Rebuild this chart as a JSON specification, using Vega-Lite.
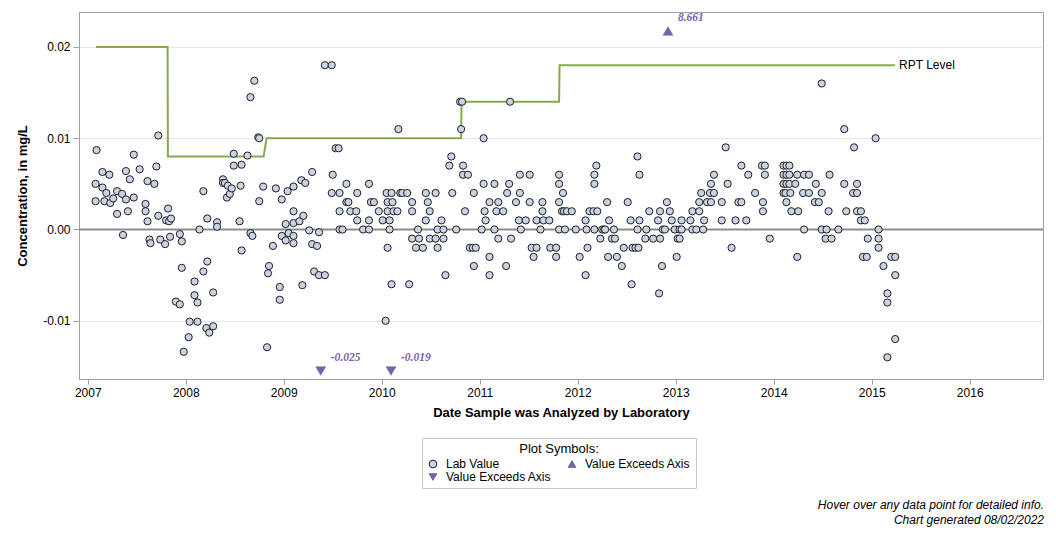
{
  "$schema": "https://vega.github.io/schema/vega-lite/v6.json",
  "width": 964,
  "height": 367,
  "autosize": {"type": "none"},
  "padding": {"left": 79, "top": 12, "right": 13, "bottom": 159},
  "background": "white",
  "config": {
    "font": "Liberation Sans",
    "view": {"stroke": "#a0a0a0", "strokeWidth": 1},
    "axis": {"labelColor": "#000000", "titleColor": "#000000", "labelFontSize": 12, "titleFontSize": 13, "titleFontWeight": "bold", "tickColor": "#a0a0a0", "domain": false},
    "legend": {
      "orient": "none", "legendX": 343, "legendY": 426, "columns": 2, "direction": "horizontal", "columnPadding": 14,
      "titleAnchor": "middle", "titleFontSize": 13, "titleFontWeight": "normal", "titleColor": "#000000", "titlePadding": 2,
      "labelFontSize": 12, "labelColor": "#000000", "labelOffset": 7, "symbolSize": 60, "rowPadding": 1,
      "padding": 5, "strokeColor": "#c8c8c8", "symbolStrokeWidth": 1
    }
  },
  "title": {
    "text": ["Hover over any data point for detailed info.", "Chart generated 08/02/2022"],
    "orient": "bottom", "anchor": "end", "fontSize": 12, "fontStyle": "italic", "fontWeight": "normal",
    "color": "#000000", "lineHeight": 15, "offset": 11
  },
  "datasets": {
    "rpt": [
      {"seq": 1, "date": 2007.085, "rpt": 0.02},
      {"seq": 2, "date": 2007.815, "rpt": 0.02},
      {"seq": 3, "date": 2007.818, "rpt": 0.008},
      {"seq": 4, "date": 2008.795, "rpt": 0.008},
      {"seq": 5, "date": 2008.825, "rpt": 0.01},
      {"seq": 6, "date": 2010.81, "rpt": 0.01},
      {"seq": 7, "date": 2010.815, "rpt": 0.014},
      {"seq": 8, "date": 2011.81, "rpt": 0.014},
      {"seq": 9, "date": 2011.815, "rpt": 0.018},
      {"seq": 10, "date": 2015.238, "rpt": 0.018}
    ],
    "rptlabel": [{"date": 2015.238, "rpt": 0.018, "label": "RPT Level"}],
    "beyond": [
      {"date": 2012.921, "conc": 8.661, "symbol": "Above", "label": "8.661"},
      {"date": 2009.378, "conc": -0.025, "symbol": "Below", "label": "-0.025"},
      {"date": 2010.095, "conc": -0.019, "symbol": "Below", "label": "-0.019"}
    ],
    "lab": [
      {"date":2007.09,"conc":0.0087},{"date":2007.08,"conc":0.005},{"date":2007.08,"conc":0.0031},{"date":2007.15,"conc":0.0063},{"date":2007.15,"conc":0.0046},{"date":2007.22,"conc":0.006},{"date":2007.19,"conc":0.004},{"date":2007.17,"conc":0.0031},{"date":2007.23,"conc":0.0029},{"date":2007.26,"conc":0.0034},{"date":2007.30,"conc":0.0042},{"date":2007.30,"conc":0.0017},{"date":2007.35,"conc":0.0039},{"date":2007.36,"conc":-0.0006},{"date":2007.39,"conc":0.0064},{"date":2007.39,"conc":0.0033},{"date":2007.41,"conc":0.002},{"date":2007.43,"conc":0.0055},{"date":2007.47,"conc":0.0082},{"date":2007.47,"conc":0.0035},{"date":2007.53,"conc":0.0066},{"date":2007.59,"conc":0.0028},{"date":2007.59,"conc":0.002},{"date":2007.61,"conc":0.0053},{"date":2007.61,"conc":0.0009},{"date":2007.63,"conc":-0.0011},{"date":2007.64,"conc":-0.0015},{"date":2007.68,"conc":0.005},{"date":2007.70,"conc":0.0069},{"date":2007.72,"conc":0.0103},{"date":2007.72,"conc":0.0015},{"date":2007.74,"conc":-0.0011},{"date":2007.79,"conc":-0.0016},{"date":2007.80,"conc":0.001},{"date":2007.82,"conc":0.0023},{"date":2007.83,"conc":0.0009},{"date":2007.84,"conc":-0.0008},{"date":2007.85,"conc":0.0012},{"date":2007.94,"conc":-0.0005},{"date":2007.96,"conc":-0.0013},{"date":2007.96,"conc":-0.0042},{"date":2007.90,"conc":-0.0079},{"date":2007.94,"conc":-0.0082},{"date":2007.98,"conc":-0.0134},{"date":2008.03,"conc":-0.0118},{"date":2008.04,"conc":-0.0101},{"date":2008.09,"conc":-0.0057},{"date":2008.09,"conc":-0.0072},{"date":2008.12,"conc":-0.008},{"date":2008.12,"conc":-0.0101},{"date":2008.14,"conc":0},{"date":2008.18,"conc":0.0042},{"date":2008.18,"conc":-0.0046},{"date":2008.22,"conc":0.0012},{"date":2008.22,"conc":-0.0035},{"date":2008.21,"conc":-0.0108},{"date":2008.24,"conc":-0.0113},{"date":2008.28,"conc":-0.0106},{"date":2008.28,"conc":-0.0069},{"date":2008.32,"conc":0.0008},{"date":2008.32,"conc":0.0003},{"date":2008.38,"conc":0.0055},{"date":2008.38,"conc":0.0051},{"date":2008.40,"conc":0.0051},{"date":2008.42,"conc":0.0035},{"date":2008.43,"conc":0.0048},{"date":2008.45,"conc":0.0039},{"date":2008.47,"conc":0.0045},{"date":2008.49,"conc":0.0083},{"date":2008.49,"conc":0.007},{"date":2008.55,"conc":0.0009},{"date":2008.56,"conc":0.0048},{"date":2008.57,"conc":0.0071},{"date":2008.57,"conc":-0.0023},{"date":2008.63,"conc":0.0081},{"date":2008.66,"conc":0.0145},{"date":2008.66,"conc":-0.0004},{"date":2008.68,"conc":-0.0007},{"date":2008.70,"conc":0.0163},{"date":2008.75,"conc":0.0031},{"date":2008.74,"conc":0.0101},{"date":2008.75,"conc":0.01},{"date":2008.79,"conc":0.0047},{"date":2008.83,"conc":-0.0129},{"date":2008.84,"conc":-0.0048},{"date":2008.85,"conc":-0.004},{"date":2008.89,"conc":-0.0018},{"date":2008.92,"conc":0.0045},{"date":2008.96,"conc":-0.0063},{"date":2008.96,"conc":-0.0077},{"date":2008.98,"conc":0.0033},{"date":2008.98,"conc":-0.0007},{"date":2009.02,"conc":0.0006},{"date":2009.02,"conc":-0.0012},{"date":2009.04,"conc":0.0042},{"date":2009.05,"conc":-0.0004},{"date":2009.10,"conc":0.0047},{"date":2009.10,"conc":0.002},{"date":2009.10,"conc":0.0007},{"date":2009.10,"conc":-0.0007},{"date":2009.10,"conc":-0.0015},{"date":2009.16,"conc":0.0009},{"date":2009.18,"conc":0.0054},{"date":2009.19,"conc":-0.0061},{"date":2009.20,"conc":0.0015},{"date":2009.22,"conc":0.0051},{"date":2009.26,"conc":-0.0001},{"date":2009.29,"conc":0.0063},{"date":2009.29,"conc":-0.0016},{"date":2009.31,"conc":-0.0046},{"date":2009.34,"conc":-0.0018},{"date":2009.36,"conc":-0.0003},{"date":2009.36,"conc":-0.005},{"date":2009.42,"conc":-0.005},{"date":2009.42,"conc":0.018},{"date":2009.49,"conc":0.018},{"date":2009.49,"conc":0.004},{"date":2009.50,"conc":0.006},{"date":2009.53,"conc":0.0089},{"date":2009.56,"conc":0.0089},{"date":2009.57,"conc":0.002},{"date":2009.57,"conc":0},{"date":2009.60,"conc":0},
      {"date":2009.57,"conc":0.004},{"date":2009.64,"conc":0.005},{"date":2009.64,"conc":0.003},{"date":2009.66,"conc":0.003},{"date":2009.68,"conc":0.002},{"date":2009.74,"conc":0.002},{"date":2009.75,"conc":0.004},{"date":2009.75,"conc":0.001},{"date":2009.81,"conc":0},{"date":2009.87,"conc":0.005},{"date":2009.87,"conc":0.001},{"date":2009.87,"conc":0},{"date":2009.89,"conc":0.003},{"date":2009.92,"conc":0.003},{"date":2009.97,"conc":0.002},{"date":2010.01,"conc":0.001},{"date":2010.04,"conc":-0.01},{"date":2010.05,"conc":0.004},{"date":2010.06,"conc":0.003},{"date":2010.06,"conc":0.002},{"date":2010.06,"conc":-0.002},{"date":2010.08,"conc":0.001},{"date":2010.08,"conc":0},{"date":2010.10,"conc":0.004},{"date":2010.10,"conc":-0.006},{"date":2010.11,"conc":0.003},{"date":2010.12,"conc":0.002},{"date":2010.17,"conc":0.011},{"date":2010.16,"conc":0.002},{"date":2010.19,"conc":0.004},{"date":2010.21,"conc":0.004},{"date":2010.26,"conc":0.004},{"date":2010.28,"conc":-0.006},{"date":2010.31,"conc":0.003},{"date":2010.31,"conc":0.002},{"date":2010.31,"conc":-0.001},{"date":2010.35,"conc":-0.002},{"date":2010.37,"conc":0},{"date":2010.38,"conc":-0.001},{"date":2010.42,"conc":-0.002},{"date":2010.45,"conc":0.004},{"date":2010.45,"conc":0.001},{"date":2010.47,"conc":0.003},{"date":2010.49,"conc":-0.001},{"date":2010.49,"conc":0.002},{"date":2010.55,"conc":0.004},{"date":2010.55,"conc":-0.001},{"date":2010.57,"conc":0},{"date":2010.57,"conc":-0.002},{"date":2010.61,"conc":0.001},{"date":2010.63,"conc":0},{"date":2010.63,"conc":-0.001},{"date":2010.65,"conc":-0.005},{"date":2010.69,"conc":0.007},{"date":2010.71,"conc":0.008},{"date":2010.72,"conc":0.004},{"date":2010.76,"conc":0},{"date":2010.80,"conc":0.014},{"date":2010.82,"conc":0.014},{"date":2010.81,"conc":0.011},{"date":2010.83,"conc":0.007},{"date":2010.83,"conc":0.006},{"date":2010.85,"conc":0.002},{"date":2010.88,"conc":0.006},{"date":2010.90,"conc":-0.002},{"date":2010.93,"conc":-0.002},{"date":2010.96,"conc":-0.002},{"date":2010.94,"conc":0.004},{"date":2010.94,"conc":-0.004},{"date":2011.02,"conc":0},{"date":2011.04,"conc":0.005},{"date":2011.04,"conc":0.01},{"date":2011.05,"conc":0.002},{"date":2011.06,"conc":0.001},{"date":2011.10,"conc":0.003},{"date":2011.10,"conc":-0.003},{"date":2011.10,"conc":-0.005},{"date":2011.15,"conc":0.005},{"date":2011.15,"conc":0},{"date":2011.17,"conc":0.002},{"date":2011.19,"conc":0.003},{"date":2011.19,"conc":-0.001},{"date":2011.24,"conc":0.002},{"date":2011.27,"conc":-0.004},{"date":2011.28,"conc":0.004},{"date":2011.30,"conc":0.005},{"date":2011.31,"conc":0.014},{"date":2011.32,"conc":-0.001},{"date":2011.37,"conc":0.003},{"date":2011.40,"conc":0.001},{"date":2011.41,"conc":0.006},{"date":2011.41,"conc":0.004},{"date":2011.42,"conc":0},{"date":2011.47,"conc":0.001},{"date":2011.51,"conc":0.006},{"date":2011.51,"conc":0.003},{"date":2011.53,"conc":-0.002},{"date":2011.55,"conc":-0.003},{"date":2011.58,"conc":-0.002},{"date":2011.58,"conc":0.001},{"date":2011.62,"conc":0},{"date":2011.64,"conc":0.003},{"date":2011.64,"conc":0.002},{"date":2011.65,"conc":0.001},{"date":2011.71,"conc":0.001},{"date":2011.72,"conc":-0.002},{"date":2011.78,"conc":-0.002},{"date":2011.78,"conc":-0.003},{"date":2011.81,"conc":0},{"date":2011.81,"conc":0.006},{"date":2011.81,"conc":0.005},{"date":2011.81,"conc":0.003},{"date":2011.84,"conc":0.002},{"date":2011.85,"conc":0.004},{"date":2011.86,"conc":0.002},{"date":2011.87,"conc":0},{"date":2011.89,"conc":0.002},{"date":2011.94,"conc":0.002},{"date":2011.98,"conc":0},{"date":2012.02,"conc":-0.003},{"date":2012.08,"conc":0.001},{"date":2012.08,"conc":-0.005},{"date":2012.09,"conc":0},{"date":2012.10,"conc":-0.002},{"date":2012.12,"conc":0.002},{"date":2012.16,"conc":0.002},{"date":2012.17,"conc":0.006},{"date":2012.17,"conc":0.005},{"date":2012.19,"conc":0.007},{"date":2012.17,"conc":0},{"date":2012.20,"conc":0.002},{"date":2012.23,"conc":-0.001},{"date":2012.25,"conc":0},{"date":2012.27,"conc":0},{"date":2012.28,"conc":0},{"date":2012.30,"conc":0.003},{"date":2012.31,"conc":-0.003},{"date":2012.32,"conc":0.001},{"date":2012.35,"conc":-0.001},{"date":2012.37,"conc":0},{"date":2012.38,"conc":-0.001},{"date":2012.40,"conc":-0.003},{"date":2012.45,"conc":-0.004},{"date":2012.47,"conc":-0.002},{"date":2012.51,"conc":0.003},{"date":2012.54,"conc":0.001},{"date":2012.55,"conc":-0.006},{"date":2012.56,"conc":-0.002},{"date":2012.59,"conc":-0.002},{"date":2012.61,"conc":0.008},{"date":2012.63,"conc":0.006},{"date":2012.63,"conc":0.001},{"date":2012.62,"conc":-0.002},{"date":2012.61,"conc":0},{"date":2012.69,"conc":-0.001},{"date":2012.70,"conc":0},{"date":2012.73,"conc":0.002},{"date":2012.77,"conc":-0.001},{"date":2012.82,"conc":0.001},{"date":2012.83,"conc":-0.007},{"date":2012.84,"conc":0.002},{"date":2012.84,"conc":-0.001},{"date":2012.87,"conc":0},{"date":2012.86,"conc":-0.004},{"date":2012.89,"conc":0},{"date":2012.91,"conc":0.003},{"date":2012.94,"conc":0.002},{"date":2012.96,"conc":0.001},{"date":2012.99,"conc":0},{"date":2013.01,"conc":-0.003},{"date":2013.02,"conc":-0.001},
      {"date":2013.04,"conc":0},{"date":2013.04,"conc":-0.001},{"date":2013.06,"conc":0.001},{"date":2013.06,"conc":0},{"date":2013.15,"conc":0.001},{"date":2013.17,"conc":0.002},{"date":2013.17,"conc":0},{"date":2013.21,"conc":0},{"date":2013.24,"conc":0.003},{"date":2013.24,"conc":0.002},{"date":2013.26,"conc":0.004},{"date":2013.28,"conc":0},{"date":2013.29,"conc":0.001},{"date":2013.32,"conc":0.003},{"date":2013.35,"conc":0.004},{"date":2013.36,"conc":0.005},{"date":2013.36,"conc":0.003},{"date":2013.39,"conc":0.006},{"date":2013.39,"conc":0.004},{"date":2013.47,"conc":0.003},{"date":2013.47,"conc":0.001},{"date":2013.51,"conc":0.009},{"date":2013.53,"conc":0.005},{"date":2013.57,"conc":-0.002},{"date":2013.61,"conc":0.001},{"date":2013.64,"conc":0.003},{"date":2013.67,"conc":0.003},{"date":2013.67,"conc":0.007},{"date":2013.72,"conc":0.001},{"date":2013.74,"conc":0.006},{"date":2013.81,"conc":0.004},{"date":2013.88,"conc":0.007},{"date":2013.91,"conc":0.007},{"date":2013.89,"conc":0.003},{"date":2013.89,"conc":0.002},{"date":2013.91,"conc":0.006},{"date":2013.96,"conc":-0.001},
      {"date":2014.10,"conc":0.007},{"date":2014.13,"conc":0.007},{"date":2014.16,"conc":0.007},{"date":2014.10,"conc":0.006},{"date":2014.13,"conc":0.006},{"date":2014.16,"conc":0.006},{"date":2014.10,"conc":0.005},{"date":2014.13,"conc":0.005},{"date":2014.16,"conc":0.005},{"date":2014.10,"conc":0.004},{"date":2014.12,"conc":0.004},{"date":2014.17,"conc":0.004},{"date":2014.13,"conc":0.003},{"date":2014.18,"conc":0.002},{"date":2014.22,"conc":0.005},{"date":2014.24,"conc":0.006},{"date":2014.24,"conc":-0.003},{"date":2014.25,"conc":0.002},{"date":2014.31,"conc":0.006},{"date":2014.36,"conc":0.006},{"date":2014.30,"conc":0.004},{"date":2014.36,"conc":0.004},{"date":2014.31,"conc":0},{"date":2014.43,"conc":0.005},{"date":2014.42,"conc":0.003},{"date":2014.46,"conc":0.003},{"date":2014.49,"conc":0.016},{"date":2014.49,"conc":0.004},{"date":2014.49,"conc":0},{"date":2014.54,"conc":0},{"date":2014.53,"conc":-0.001},{"date":2014.59,"conc":-0.001},{"date":2014.56,"conc":0.002},{"date":2014.57,"conc":0.006},{"date":2014.66,"conc":0},{"date":2014.72,"conc":0.011},{"date":2014.72,"conc":0.005},{"date":2014.74,"conc":0.002},{"date":2014.82,"conc":0.009},{"date":2014.81,"conc":0.004},{"date":2014.85,"conc":0.004},{"date":2014.85,"conc":0.005},{"date":2014.85,"conc":0.002},{"date":2014.89,"conc":0.002},{"date":2014.89,"conc":0.001},{"date":2014.93,"conc":0.001},{"date":2014.91,"conc":-0.003},{"date":2014.95,"conc":-0.003},{"date":2014.96,"conc":-0.001},{"date":2015.04,"conc":0.01},{"date":2015.07,"conc":0},{"date":2015.07,"conc":-0.001},{"date":2015.07,"conc":-0.002},{"date":2015.12,"conc":-0.004},{"date":2015.16,"conc":-0.007},{"date":2015.16,"conc":-0.008},{"date":2015.16,"conc":-0.014},{"date":2015.20,"conc":-0.003},{"date":2015.24,"conc":-0.003},{"date":2015.24,"conc":-0.005},{"date":2015.24,"conc":-0.012}
    ]
  },
  "layer": [
    {
      "layer": [
        {
          "data": {"values": [{"level": 0}]},
          "mark": {"type": "rule", "color": "#8c8c8c", "strokeWidth": 2},
          "encoding": {
            "y": {"field": "level", "type": "quantitative", "scale": {"domain": [-0.01638, 0.02383], "nice": false, "zero": false}}
          }
        },
        {
          "data": {"name": "rpt"},
          "mark": {"type": "line", "color": "#8aa84f", "strokeWidth": 2},
          "encoding": {
            "x": {"field": "date", "type": "quantitative", "scale": {"domain": [2006.911, 2016.748], "nice": false, "zero": false},
              "axis": {"values": [2007, 2008, 2009, 2010, 2011, 2012, 2013, 2014, 2015, 2016], "format": "d", "title": "Date Sample was Analyzed by Laboratory", "tickSize": 5, "labelPadding": 3, "titlePadding": 8, "grid": false, "labelFlush": false}},
            "y": {"field": "rpt", "type": "quantitative", "scale": {"domain": [-0.01638, 0.02383], "nice": false, "zero": false},
              "axis": {"values": [-0.01, 0, 0.01, 0.02], "labelExpr": "datum.value < 0 ? '-' + format(-datum.value, '.2f') : format(datum.value, '.2f')", "title": "Concentration, in mg/L", "tickSize": 6, "labelPadding": 3, "titlePadding": 13, "grid": true, "gridColor": "#e6e6e6"}},
            "order": {"field": "seq", "type": "quantitative"}
          }
        },
        {
          "data": {"name": "lab"},
          "mark": {"type": "point", "filled": true, "strokeWidth": 1, "size": 52, "opacity": 1},
          "encoding": {
            "x": {"field": "date", "type": "quantitative"},
            "y": {"field": "conc", "type": "quantitative"},
            "shape": {"datum": "Lab Value", "type": "nominal",
              "scale": {"domain": ["Lab Value", "Above", "Below"], "range": ["circle", "triangle-up", "triangle-down"]},
              "legend": {"title": "Plot Symbols:", "values": ["Lab Value", "Above", "Below"], "labelExpr": "datum.value == 'Lab Value' ? 'Lab Value' : 'Value Exceeds Axis'"}},
            "fill": {"datum": "Lab Value", "type": "nominal",
              "scale": {"domain": ["Lab Value", "Above", "Below"], "range": ["#c9d3e5", "#7b62a8", "#7b62a8"]},
              "legend": {"title": "Plot Symbols:", "values": ["Lab Value", "Above", "Below"], "labelExpr": "datum.value == 'Lab Value' ? 'Lab Value' : 'Value Exceeds Axis'"}},
            "stroke": {"datum": "Lab Value", "type": "nominal",
              "scale": {"domain": ["Lab Value", "Above", "Below"], "range": ["#1f1f1f", "#7b62a8", "#7b62a8"]},
              "legend": {"title": "Plot Symbols:", "values": ["Lab Value", "Above", "Below"], "labelExpr": "datum.value == 'Lab Value' ? 'Lab Value' : 'Value Exceeds Axis'"}}
          }
        },
        {
          "data": {"name": "rptlabel"},
          "mark": {"type": "text", "align": "left", "baseline": "middle", "dx": 4, "fontSize": 12, "color": "#000000"},
          "encoding": {
            "x": {"field": "date", "type": "quantitative"},
            "y": {"field": "rpt", "type": "quantitative"},
            "text": {"field": "label"}
          }
        }
      ]
    },
    {
      "data": {"name": "beyond"},
      "encoding": {
        "x": {"field": "date", "type": "quantitative"},
        "y": {"field": "conc", "type": "quantitative", "axis": null,
          "scale": {"domain": [-0.01638, 0.02383], "nice": false, "zero": false, "clamp": true, "range": [359, 19]}}
      },
      "layer": [
        {
          "mark": {"type": "point", "filled": true, "strokeWidth": 0.5, "size": 100, "opacity": 1},
          "encoding": {
            "shape": {"field": "symbol", "type": "nominal",
              "scale": {"domain": ["Lab Value", "Above", "Below"], "range": ["circle", "triangle-up", "triangle-down"]},
              "legend": {"title": "Plot Symbols:", "values": ["Lab Value", "Above", "Below"], "labelExpr": "datum.value == 'Lab Value' ? 'Lab Value' : 'Value Exceeds Axis'"}},
            "fill": {"field": "symbol", "type": "nominal",
              "scale": {"domain": ["Lab Value", "Above", "Below"], "range": ["#c9d3e5", "#7b62a8", "#7b62a8"]},
              "legend": {"title": "Plot Symbols:", "values": ["Lab Value", "Above", "Below"], "labelExpr": "datum.value == 'Lab Value' ? 'Lab Value' : 'Value Exceeds Axis'"}},
            "stroke": {"field": "symbol", "type": "nominal",
              "scale": {"domain": ["Lab Value", "Above", "Below"], "range": ["#1f1f1f", "#7b62a8", "#7b62a8"]},
              "legend": {"title": "Plot Symbols:", "values": ["Lab Value", "Above", "Below"], "labelExpr": "datum.value == 'Lab Value' ? 'Lab Value' : 'Value Exceeds Axis'"}}
          }
        },
        {
          "mark": {"type": "text", "align": "left", "baseline": "middle", "dx": 10, "dy": -13, "font": "Liberation Serif", "fontSize": 11.5, "fontStyle": "italic", "fontWeight": "bold", "color": "#7b62a8"},
          "encoding": {"text": {"field": "label"}}
        }
      ]
    }
  ],
  "resolve": {"scale": {"y": "independent"}}
}
